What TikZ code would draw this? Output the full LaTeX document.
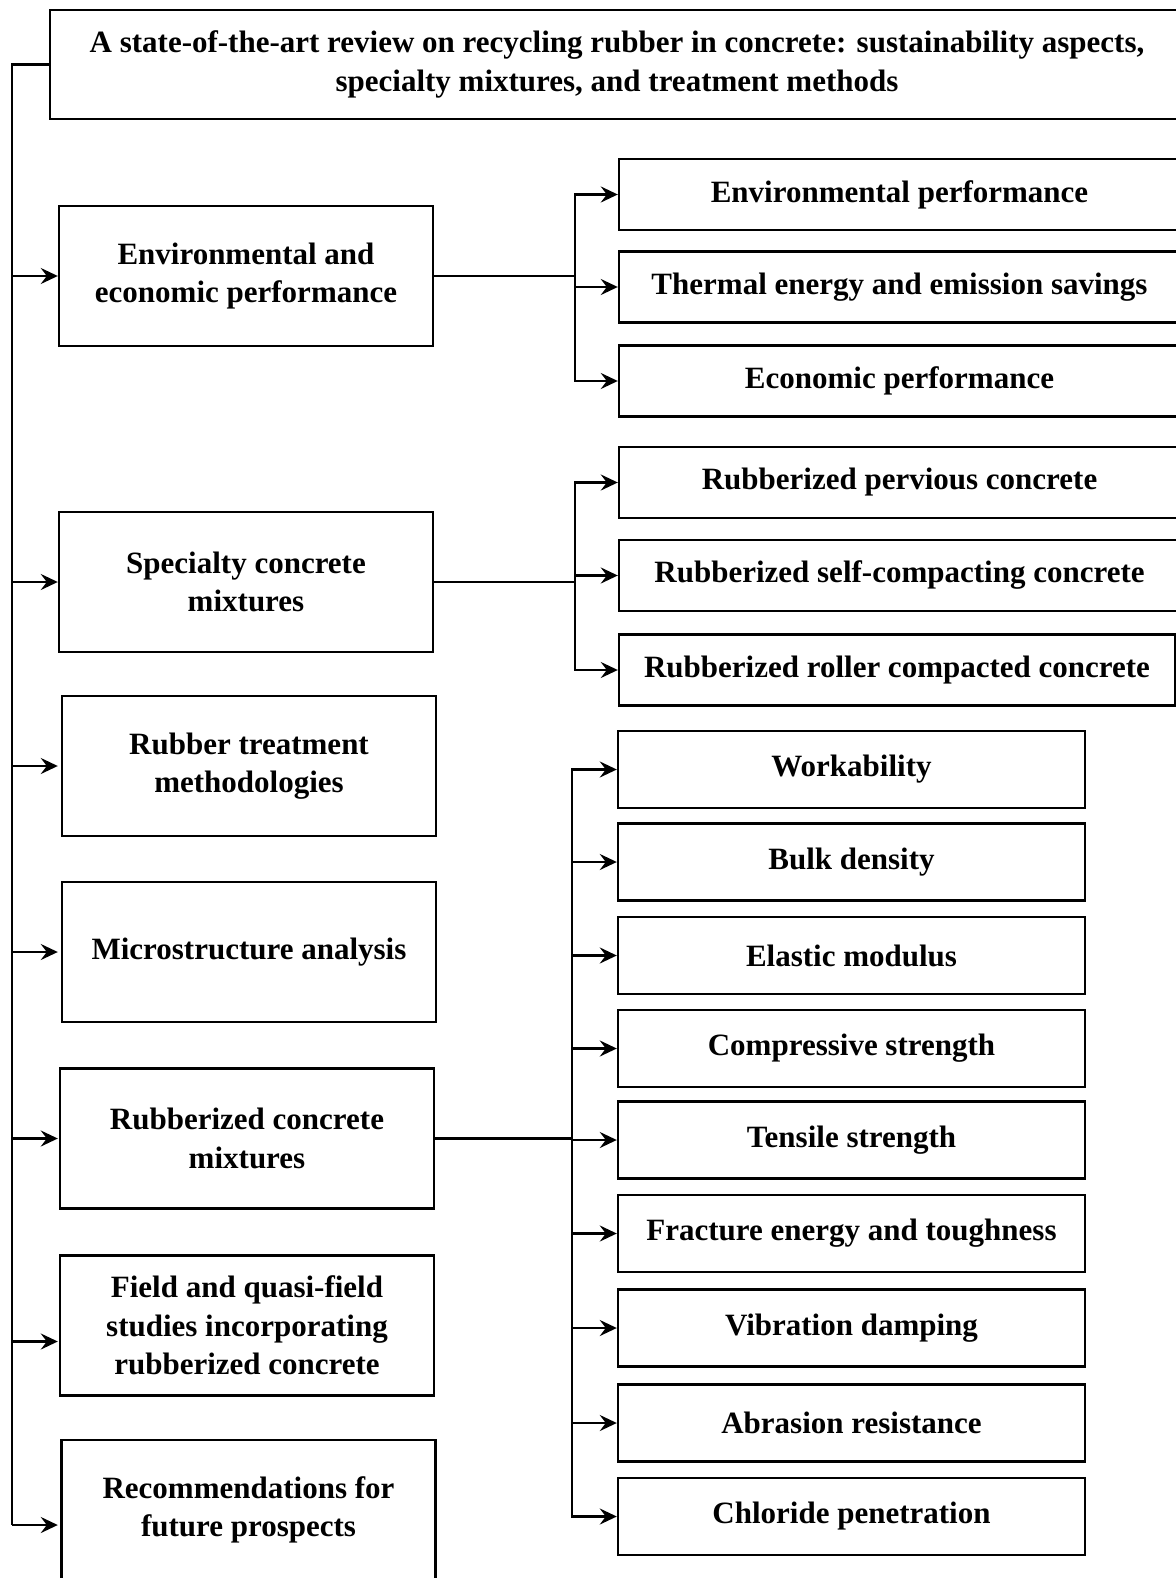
\documentclass[tikz,border=0pt]{standalone}
\usepackage{fontspec}
\setmainfont{Liberation Serif}
\usetikzlibrary{arrows.meta}

\begin{document}
\begin{tikzpicture}[x=0.5pt,y=-0.5pt,
    box/.style={draw, line width=1.2pt, align=center, inner sep=0pt,
      font=\bfseries\fontsize{15.5}{19.2}\selectfont},
    lbox/.style={box, minimum width=187pt, minimum height=70pt},
    rbox/.style={box, minimum width=280.5pt, minimum height=35.5pt},
    pbox/.style={box, minimum width=233.5pt, minimum height=38.5pt},
    link/.style={line width=1.2pt},
    arr/.style={link, -{Stealth[length=8.5pt,width=8pt,inset=3pt]}}]
      \useasboundingbox (0,0) rectangle (1176,1578);
      \clip (0,0) rectangle (1176,1578);

      \node[box, minimum width=567pt, minimum height=54.5pt](title) at (617,64.5){A state-of-the-art review on recycling rubber in concrete: sustainability aspects,\\ specialty mixtures, and treatment methods};

      % left column
      \node[lbox](env) at (246,276){Environmental and\\ economic performance};
      \node[lbox](spec) at (246,582){Specialty concrete\\ mixtures};
      \node[lbox](treat) at (249,766){Rubber treatment\\ methodologies};
      \node[lbox](micro) at (249,952){Microstructure analysis};
      \node[lbox](mix) at (247,1138.5){Rubberized concrete\\ mixtures};
      \node[lbox](field) at (247,1325.5){Field and quasi-field\\ studies incorporating\\ rubberized concrete};
      \node[lbox](recom) at (248.5,1510){Recommendations for\\ future prospects};

      % right column
      \node[rbox](envperf) at (899.5,194.5){Environmental performance};
      \node[rbox](thermal) at (899.5,287){Thermal energy and emission savings};
      \node[rbox](econ) at (899.5,381){Economic performance};
      \node[rbox](pervious) at (899.5,482.5){Rubberized pervious concrete};
      \node[rbox](scc) at (899.5,575.5){Rubberized self-compacting concrete};
      \node[rbox, minimum width=278pt](rcc) at (897,670){Rubberized roller compacted concrete};

      \foreach \y/\name/\txt in {769.5/work/Workability, 862/bulk/Bulk density,
          955.5/elastic/Elastic modulus, 1048.5/comp/Compressive strength,
          1140/tens/Tensile strength, 1233.5/frac/Fracture energy and toughness,
          1328/vib/Vibration damping, 1423/abr/Abrasion resistance,
          1516.5/chl/Chloride penetration} {
        \node[pbox](\name) at (851.5,\y){\txt};
      }

      \coordinate (trunk) at (12,0);
      \coordinate (fork1) at (575,0);
      \coordinate (fork3) at (572,0);
      \coordinate (fieldin) at ([yshift=-8pt]field.west);
      \coordinate (recomin) at ([yshift=-7.5pt]recom.west);

      \draw[link] (title.west) -| (trunk |- recomin);
      \foreach \n in {env,spec,treat,micro,mix,fieldin,recomin} {
        \draw[arr] (trunk |- \n) -- (\n -| env.west);
      }

      \draw[link] (env.east) -- (fork1 |- env.east);
      \foreach \n in {envperf,thermal,econ} {
        \draw[arr] (fork1 |- env.east) |- (\n.west);
      }

      \draw[link] (spec.east) -- (fork1 |- spec.east);
      \foreach \n in {pervious,scc,rcc} {
        \draw[arr] (fork1 |- spec.east) |- (\n.west);
      }

      \draw[link] (mix.east) -- (fork3 |- mix.east);
      \foreach \n in {work,bulk,elastic,comp,tens,frac,vib,abr,chl} {
        \draw[arr] (fork3 |- mix.east) |- (\n.west);
      }
\end{tikzpicture}
\end{document}
